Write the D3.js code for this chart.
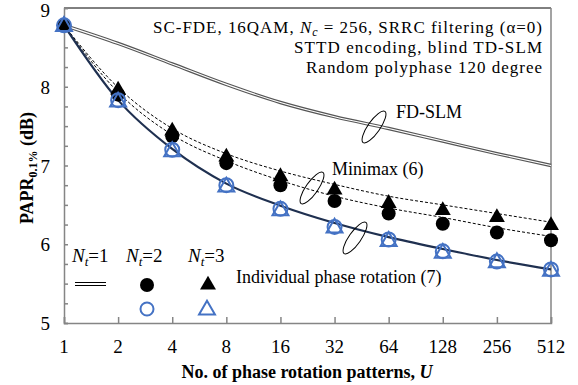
<!DOCTYPE html>
<html>
<head>
<meta charset="utf-8">
<script src="https://cdn.jsdelivr.net/npm/d3@7"></script>
<style>
  body { margin: 0; background: #fff; }
  svg { display: block; }
  text { font-family: "Liberation Serif", "Times New Roman", serif; fill: #000; }
</style>
</head>
<body>
<svg id="canvas" width="578" height="385"></svg>
<script>
'use strict';

// x: number of phase rotation patterns U
const patterns = [1, 2, 4, 8, 16, 32, 64, 128, 256, 512];
const yTicks = [5, 6, 7, 8, 9];

// lines
const fdSlm = [8.78, 8.55, 8.29, 8.03, 7.80, 7.62, 7.47, 7.31, 7.15, 7.00];
const minimaxLineNt2 = [8.78, 7.93, 7.39, 7.06, 6.81, 6.61, 6.46, 6.34, 6.21, 6.10];
const minimaxLineNt3 = [8.78, 7.99, 7.47, 7.15, 6.93, 6.76, 6.61, 6.50, 6.39, 6.28];
const individualLine = [8.78, 7.83, 7.21, 6.77, 6.49, 6.27, 6.09, 5.94, 5.80, 5.68];

// markers
const minimaxNt2 = [8.78, 7.90, 7.37, 7.03, 6.75, 6.55, 6.39, 6.26, 6.15, 6.05];
const minimaxNt3 = [8.78, 7.96, 7.44, 7.11, 6.86, 6.69, 6.52, 6.43, 6.34, 6.24];
const individualNt2 = [8.78, 7.83, 7.20, 6.75, 6.45, 6.22, 6.06, 5.91, 5.78, 5.68];
const individualNt3 = [8.78, 7.82, 7.19, 6.74, 6.44, 6.22, 6.05, 5.90, 5.78, 5.67];

function Main() {
  const kBlue = '#4472c4';
  const kAxis = '#858585';
  const svg = d3.select('#canvas');

  const x = d3.scaleLog().base(2).domain([1, 512]).range([64, 551]);
  const y = d3.scaleLinear().domain([5, 9]).range([323, 8]);

  // frame
  svg.append('line').attr('x1', 64).attr('x2', 551).attr('y1', 8).attr('y2', 8)
      .attr('stroke', '#000').attr('stroke-width', 1);
  svg.append('line').attr('x1', 551).attr('x2', 551).attr('y1', 8).attr('y2', 323)
      .attr('stroke', kAxis).attr('stroke-width', 1.5);

  // axes
  const yAxis = d3.axisRight(y).tickValues(d3.range(5, 9.01, 0.25))
      .tickSize(4).tickFormat('');
  const gy = svg.append('g').attr('transform', 'translate(64,0)').call(yAxis);
  const xAxis = d3.axisTop(x).tickValues(patterns).tickSize(6).tickFormat('');
  const gx = svg.append('g').attr('transform', 'translate(0,323)').call(xAxis);
  [gx, gy].forEach(function(g) {
    g.selectAll('path, line').attr('stroke', kAxis).attr('stroke-width', 1.5);
  });

  svg.append('g').selectAll('text')
      .data(yTicks)
    .enter().append('text')
      .attr('x', 50)
      .attr('y', function(d) { return Math.max(y(d) + 7, 17); })
      .attr('text-anchor', 'end')
      .style('font-size', '19px')
      .text(function(d) { return d; });

  svg.append('g').selectAll('text')
      .data(patterns)
    .enter().append('text')
      .attr('x', function(d) { return x(d); })
      .attr('y', 353)
      .attr('text-anchor', 'middle')
      .style('font-size', '19px')
      .text(function(d) { return d; });

  // axis titles
  const xt = svg.append('text').attr('x', 307).attr('y', 378)
      .attr('text-anchor', 'middle').style('font-size', '18px').style('font-weight', 'bold');
  xt.append('tspan').text('No. of phase rotation patterns, ');
  xt.append('tspan').style('font-style', 'italic').text('U');

  const yt = svg.append('text')
      .attr('transform', 'translate(33,168) rotate(-90)')
      .attr('text-anchor', 'middle').style('font-size', '18px').style('font-weight', 'bold');
  yt.append('tspan').text('PAPR');
  yt.append('tspan').attr('dy', 4).style('font-size', '12px').text('0.1%');
  yt.append('tspan').attr('dy', -4).text(' (dB)');

  // curves
  function Points(values) {
    return values.map(function(v, i) { return [x(patterns[i]), y(v)]; });
  }
  const line = d3.line().curve(d3.curveMonotoneX);

  svg.append('path').attr('d', line(Points(fdSlm)))
      .attr('fill', 'none').attr('stroke', '#555').attr('stroke-width', 3.4);
  svg.append('path').attr('d', line(Points(fdSlm)))
      .attr('fill', 'none').attr('stroke', '#fff').attr('stroke-width', 1.1);

  [minimaxLineNt2, minimaxLineNt3].forEach(function(values) {
    svg.append('path').attr('d', line(Points(values)))
        .attr('fill', 'none').attr('stroke', '#000').attr('stroke-width', 1)
        .attr('stroke-dasharray', '3,2');
  });

  svg.append('path').attr('d', line(Points(individualLine)))
      .attr('fill', 'none').attr('stroke', '#1f3050').attr('stroke-width', 2.2);

  // markers
  const triangle = d3.symbol().type(d3.symbolTriangle).size(110);

  svg.append('g').selectAll('circle')
      .data(Points(minimaxNt2))
    .enter().append('circle')
      .attr('cx', function(d) { return d[0]; })
      .attr('cy', function(d) { return d[1]; })
      .attr('r', 7).attr('fill', '#000');

  svg.append('g').selectAll('path')
      .data(Points(minimaxNt3))
    .enter().append('path')
      .attr('d', triangle)
      .attr('transform', function(d) { return 'translate(' + d[0] + ',' + d[1] + ')'; })
      .attr('fill', '#000');

  svg.append('g').selectAll('circle')
      .data(Points(individualNt2))
    .enter().append('circle')
      .attr('cx', function(d) { return d[0]; })
      .attr('cy', function(d) { return d[1]; })
      .attr('r', 7).attr('fill', 'none').attr('stroke', kBlue).attr('stroke-width', 2);

  svg.append('g').selectAll('path')
      .data(Points(individualNt3))
    .enter().append('path')
      .attr('d', triangle)
      .attr('transform', function(d) { return 'translate(' + d[0] + ',' + (d[1] + 1) + ')'; })
      .attr('fill', 'none').attr('stroke', kBlue).attr('stroke-width', 2);

  // group ellipses
  [[374, 127], [312, 188], [355, 238]].forEach(function(c) {
    svg.append('ellipse')
        .attr('transform', 'translate(' + c[0] + ',' + c[1] + ') rotate(35)')
        .attr('rx', 6).attr('ry', 19)
        .attr('fill', 'none').attr('stroke', '#000').attr('stroke-width', 1);
  });

  // annotations
  function Label(tx, ty, str) {
    return svg.append('text').attr('x', tx).attr('y', ty)
        .style('font-size', '18px').text(str);
  }
  Label(396, 118, 'FD-SLM');
  Label(332, 175, 'Minimax (6)');
  Label(236, 283, 'Individual phase rotation (7)');

  const h1 = svg.append('text').attr('x', 153).attr('y', 33)
      .attr('textLength', 389).attr('lengthAdjust', 'spacing')
      .style('font-size', '17px');
  h1.append('tspan').text('SC-FDE, 16QAM, ');
  h1.append('tspan').style('font-style', 'italic').text('N');
  h1.append('tspan').attr('dy', 3).style('font-size', '12px').style('font-style', 'italic').text('c');
  h1.append('tspan').attr('dy', -3).text(' = 256, SRRC filtering (α=0)');
  svg.append('text').attr('x', 294).attr('y', 53)
      .attr('textLength', 248).attr('lengthAdjust', 'spacing')
      .style('font-size', '17px').text('STTD encoding, blind TD-SLM');
  svg.append('text').attr('x', 306).attr('y', 73)
      .attr('textLength', 236).attr('lengthAdjust', 'spacing')
      .style('font-size', '17px').text('Random polyphase 120 degree');

  // legend
  const legendLabels = [[72, '1'], [126, '2'], [188, '3']];
  legendLabels.forEach(function(l) {
    const t = svg.append('text').attr('x', l[0]).attr('y', 262).style('font-size', '19px');
    t.append('tspan').style('font-style', 'italic').text('N');
    t.append('tspan').attr('dy', 4).style('font-size', '13px').style('font-style', 'italic').text('t');
    t.append('tspan').attr('dy', -4).text('=' + l[1]);
  });
  svg.append('line').attr('x1', 75).attr('x2', 106).attr('y1', 282.5).attr('y2', 282.5)
      .attr('stroke', '#000').attr('stroke-width', 1);
  svg.append('line').attr('x1', 75).attr('x2', 106).attr('y1', 285.5).attr('y2', 285.5)
      .attr('stroke', '#000').attr('stroke-width', 1);
  svg.append('circle').attr('cx', 147).attr('cy', 285).attr('r', 7).attr('fill', '#000');
  svg.append('path').attr('d', triangle).attr('transform', 'translate(208,285)').attr('fill', '#000');
  svg.append('circle').attr('cx', 147).attr('cy', 309).attr('r', 6.5)
      .attr('fill', 'none').attr('stroke', kBlue).attr('stroke-width', 2);
  svg.append('path').attr('d', triangle).attr('transform', 'translate(207,310)')
      .attr('fill', 'none').attr('stroke', kBlue).attr('stroke-width', 2);
}

Main();
</script>
</body>
</html>
